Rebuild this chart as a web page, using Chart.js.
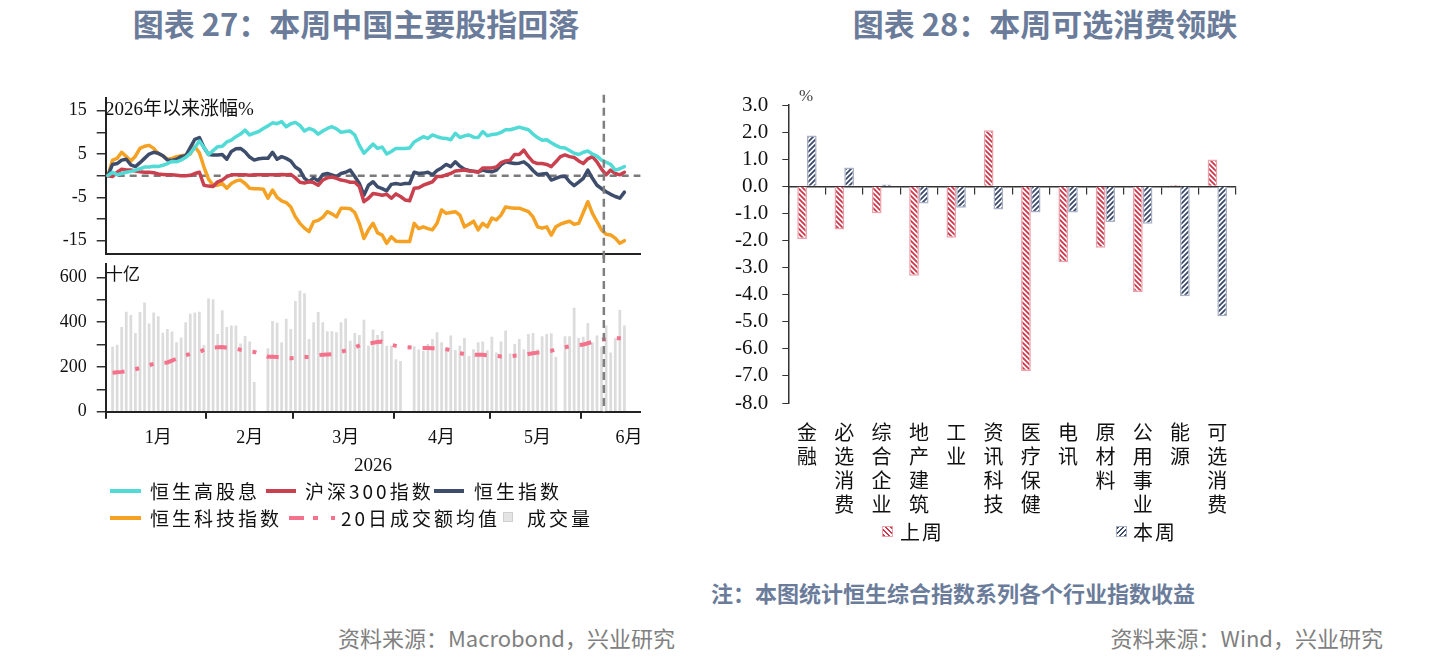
<!DOCTYPE html>
<html>
<head>
<meta charset="utf-8">
<script src="https://cdn.jsdelivr.net/npm/chart.js@4.4.1/dist/chart.umd.min.js"></script>
<style>
  body { margin: 0; width: 1440px; height: 671px; background: #fff; position: relative; overflow: hidden;
         font-family: 'Noto Sans CJK SC', sans-serif; }
  .abs { position: absolute; white-space: nowrap; }
  canvas { position: absolute; }
  .title { font-size: 31px; font-weight: bold; color: #6b7c9b; top: 4px; line-height: 38px; width: 600px; text-align: center; }
  .src { font-size: 22px; color: #808080; top: 624px; line-height: 26px; }
  .serif { font-family: 'Liberation Serif', 'Noto Sans CJK SC', serif; color: #111; }
  .lg { font-size: 19px; letter-spacing: 3px; line-height: 26px; color: #111; }
  .sw { position: absolute; height: 4px; }
</style>
</head>
<body>
<div class="abs title" style="left:56px">图表 27：本周中国主要股指回落</div>
<div class="abs title" style="left:745px">图表 28：本周可选消费领跌</div>

<canvas id="pctChart" width="650" height="170" style="left:0;top:90px"></canvas>
<canvas id="volChart" width="650" height="200" style="left:0;top:255px"></canvas>
<canvas id="sectorChart" width="545" height="445" style="left:700px;top:80px"></canvas>

<div class="abs serif" style="left:105px;top:98px;font-size:19px;line-height:22px">2026年以来涨幅%</div>
<div class="abs serif" style="left:106px;top:265px;font-size:17px;line-height:20px">十亿</div>
<div class="abs serif" style="left:273px;top:453px;width:200px;text-align:center;font-size:19px;line-height:24px">2026</div>
<div class="abs serif" style="left:799px;top:86px;font-size:17px;line-height:20px;color:#444">%</div>

<!-- left legend -->
<div class="sw" style="left:110px;top:489px;width:31px;background:#52dbd6"></div>
<div class="abs lg" style="left:150px;top:478px">恒生高股息</div>
<div class="sw" style="left:266px;top:489px;width:30px;background:#c9404f"></div>
<div class="abs lg" style="left:305px;top:478px">沪深300指数</div>
<div class="sw" style="left:434px;top:489px;width:30px;background:#3e4d6b"></div>
<div class="abs lg" style="left:474px;top:478px">恒生指数</div>
<div class="sw" style="left:110px;top:516px;width:31px;background:#f5a123"></div>
<div class="abs lg" style="left:150px;top:505px">恒生科技指数</div>
<div class="sw" style="left:289px;top:516px;width:15px;background:#f5728c"></div>
<div class="sw" style="left:313px;top:516px;width:5px;background:#f5728c"></div>
<div class="sw" style="left:331px;top:516px;width:4px;background:#f5728c"></div>
<div class="abs lg" style="left:341px;top:505px">20日成交额均值</div>
<div class="abs" style="left:503px;top:512px;width:8px;height:8px;background:#e4e4e4;border:1px solid #cfcfcf"></div>
<div class="abs lg" style="left:527px;top:505px">成交量</div>

<!-- right legend -->
<div class="abs" style="left:882px;top:526px;width:9px;height:9px;border:1px solid #eaa2ab;background:repeating-linear-gradient(45deg,#d0364a 0 1.6px,#fff 1.6px 3.6px)"></div>
<div class="abs lg" style="left:900px;top:519px;font-size:20px;letter-spacing:2px">上周</div>
<div class="abs" style="left:1116px;top:526px;width:9px;height:9px;border:1px solid #a7b0c4;background:repeating-linear-gradient(-45deg,#3b4a6b 0 1.6px,#fff 1.6px 3.6px)"></div>
<div class="abs lg" style="left:1133px;top:519px;font-size:20px;letter-spacing:2px">本周</div>

<div class="abs" style="left:698px;top:579px;width:510px;text-align:center;font-size:22px;font-weight:bold;color:#6b7c9b;line-height:26px">注：本图统计恒生综合指数系列各个行业指数收益</div>
<div class="abs src" style="right:765px">资料来源：Macrobond，兴业研究</div>
<div class="abs src" style="right:57px">资料来源：Wind，兴业研究</div>

<script>
// trading-day slots on the shared x axis (Jan 1 .. mid June)
const slotCount = 117;
const slots = Array.from({ length: slotCount }, (_, i) => String(i));
const monthStarts = [0, 22, 41, 63, 84, 104];
const monthLabelSlots = [11, 31, 52, 73, 94, 114];
const monthNames = ["1月", "2月", "3月", "4月", "5月", "6月"];
const weekBreak = 109; // first slot of this week

const pctTicks = [-15, -10, -5, 0, 5, 10, 15];
const pctLabels = [-15, -5, 5, 15];
const volTicks = [0, 100, 200, 300, 400, 500, 600];
const volLabels = [0, 200, 400, 600];

// 2026 YTD change, %
const hsHighDividend = [
  0, 0.8, 0.2, 0.5, 0.8, 1.0, 1.3, 1.6, 2.0, 2.0, 2.2, 2.1, 2.4, 2.8, 3.3, 3.2, 3.6, 4.2, 5.2, 6.5,
  8.0, 6.5, 4.9, 5.8, 6.7, 6.8, 7.8, 8.2, 9.0, 9.6, 10.5, 9.4, 9.8, 10.2, 10.9, 11.5, 12.2, 12.0, 12.5, 11.3,
  12.0, 12.3, 11.6, 10.3, 10.9, 10.5, 9.6, 10.3, 10.9, 11.3, 10.8, 10.0, 10.2, 10.3, 9.4, 7.0, 5.2, 6.2, 7.3, 6.3,
  6.6, 5.0, 5.6, 6.3, 6.3, 6.3, 6.4, 7.8, 8.4, 9.0, 8.6, 9.4, 9.0, 8.7, 8.6, 8.3, 9.8, 8.8, 9.2, 9.4,
  8.9, 8.8, 10.2, 9.2, 9.5, 9.6, 10.0, 10.6, 10.6, 10.9, 11.2, 10.9, 10.6, 9.6, 8.8, 8.2, 8.3, 7.6, 7.0, 6.5,
  6.4, 5.8, 5.2, 4.9, 5.4, 5.7, 5.0, 4.5, 3.6, 3.1, 2.6, 1.3, 1.6, 2.1
];
const csi300 = [
  0, -0.2, 0.8, 1.5, 1.3, 1.3, 1.1, 0.9, 0.8, 0.8, 0.7, 0.4, 0.3, 0.2, 0.2, 0.1, 0, 0, 0.1, 0.5,
  0.8, -2.2, -2.4, -2.5, -1.4, -1.0, -0.2, 0.2, 0.2, 0.2, 0.2, 0.1, 0.2, 0.2, 0.2, 0.2, 0.2, 0.2, 0.3, 0.2,
  0.3, -0.5, -1.5, -1.7, -1.4, -1.6, -2.2, -1.0, -0.5, -0.3, -0.6, -1.0, -1.2, -1.5, -1.5, -2.5, -6.0, -5.2, -4.1, -4.3,
  -4.5, -4.3, -5.2, -4.2, -4.8, -5.6, -5.8, -2.9, -2.8, -2.2, -1.8, -1.4, -0.2, -0.2, 0.2, 0.5, 1.1, 1.2, 1.3, 1.1,
  1.0, 0.8, 1.8, 1.8, 1.8, 2.0, 3.0, 3.4, 3.6, 4.9, 4.9, 5.9, 4.4, 3.2, 2.8, 2.8, 2.6, 2.1, 3.2, 4.4,
  4.8, 4.4, 4.2, 3.4, 2.8, 3.9, 4.4, 3.2, 1.5, 0.2, 1.3, 0.5, 0.2, 0.8
];
const hsIndex = [
  0, 2.6, 2.8, 3.6, 3.8, 2.5, 2.1, 3.0, 4.0, 5.0, 5.4, 5.2, 4.6, 3.6, 3.5, 3.8, 4.4, 4.6, 6.5, 8.4,
  8.8, 6.5, 4.9, 4.8, 4.8, 4.9, 3.8, 5.6, 6.2, 6.3, 5.5, 4.3, 3.6, 3.9, 4.0, 4.0, 5.4, 3.8, 4.4, 4.0,
  3.4, 2.0, 1.3, -0.6, -1.4, -0.5, -1.2, 0.3, 0.5, 0.2, -0.2, 0.5, 0.8, 1.3, -0.2, -1.8, -4.5, -2.2, -1.4, -2.6,
  -3.0, -3.5, -2.0, -1.8, -2.0, -1.8, -1.8, 0.8, 0.5, 0.6, 0.8, 0.2, 1.2, 1.8, 2.6, 2.1, 3.2, 2.2, 1.5, 1.2,
  1.0, 0.9, 1.3, 1.0, 0.9, 1.3, 2.5, 3.2, 3.0, 2.8, 2.9, 3.2, 2.4, 1.2, 0.2, 0.4, 0.5, -1.0, -0.6, -0.2,
  -0.1, -1.4, -2.3, -1.5, -0.6, 1.3, -0.6, -2.2, -3.0, -3.7, -4.3, -4.8, -5.2, -3.8
];
const hsTech = [
  0, 3.6, 4.0, 5.4, 4.4, 3.4, 4.5, 6.3, 6.8, 7.0, 6.3, 5.1, 4.6, 3.8, 4.0, 4.4, 4.6, 4.8, 5.0, 6.7,
  5.3, 2.0, -0.8, -2.2, -2.2, -1.8, -2.9, -1.8, -1.2, -1.0, -1.8, -2.9, -3.0, -3.0, -3.1, -5.2, -3.3, -5.0, -5.8, -6.2,
  -7.2, -9.5, -11.0, -12.1, -12.9, -10.6, -10.3, -9.6, -8.3, -8.8, -9.5, -7.5, -7.5, -7.6, -8.5, -11.0, -14.5, -12.5, -11.0, -13.2,
  -13.7, -15.6, -14.1, -15.1, -15.2, -15.2, -15.2, -11.0, -12.2, -11.8, -12.2, -12.5, -11.0, -7.9, -8.7, -8.5, -8.3, -9.1, -11.8, -11.2,
  -10.5, -12.5, -11.0, -11.8, -9.8, -10.2, -9.1, -7.2, -7.4, -7.5, -7.5, -7.9, -8.3, -9.5, -11.8, -12.1, -11.8, -13.7, -11.8, -11.2,
  -10.8, -10.5, -11.2, -11.0, -8.5, -6.0, -8.7, -10.6, -12.5, -13.5, -13.7, -14.4, -15.6, -15.0
];

// turnover, HKD bn (十亿)
const turnover = [
  null, 290, 299, 379, 447, 432, 352, 446, 488, 394, 443, 427, 353, 370, 358, 310, 332, 400, 438, 443,
  447, 298, 506, 502, 347, 453, 378, 385, 385, 305, 338, 314, 133, null, null, 284, 405, 397, 310, 415,
  370, 495, 541, 529, 325, 400, 446, 400, 360, 360, 355, 400, 417, 317, 352, 343, 411, 295, 367, 343,
  361, 295, 295, 234, 227, null, null, 293, 278, 272, 302, 325, 355, 310, 287, 340, 276, 295, 329, 249,
  279, 310, 314, 275, 335, 264, 314, 363, 260, 302, 325, 279, 347, 352, 279, 337, 347, 350, 245, null,
  337, 337, 464, 329, 335, 396, 310, 340, 290, 385, 265, 328, 455, 385
];
const turnoverMA20 = [
  null, 174, 176, 178, 181, 186, 190, 195, 202, 208, 214, 216, 218, 220, 228, 237, 245, 252, 258, 263,
  267, 276, 283, 287, 288, 289, 286, 283, 281, 277, 273, 270, 267, null, null, 246, 245, 244, 242, 240,
  239, 240, 242, 244, 245, 248, 252, 255, 256, 257, 262, 268, 273, 278, 287, 296, 305, 305, 308, 311,
  313, 306, 299, 294, 290, null, null, 286, 285, 285, 285, 284, 284, 283, 279, 275, 268, 262, 257, 256,
  255, 254, 254, 252, 250, 249, 247, 245, 247, 250, 252, 254, 258, 261, 264, 266, 269, 272, 279, null,
  288, 292, 296, 298, 300, 306, 312, 317, 321, 325, 329, 329, 328, 328
];

// Hang Seng Composite industry returns, %
const industries = ["金融", "必选消费", "综合企业", "地产建筑", "工业", "资讯科技", "医疗保健", "电讯", "原材料", "公用事业", "能源", "可选消费"];
const lastWeek = [-1.95, -1.6, -1.0, -3.3, -1.9, 2.07, -6.82, -2.8, -2.27, -3.9, 0.05, 0.99];
const thisWeek = [1.87, 0.69, 0.07, -0.64, -0.79, -0.86, -0.97, -0.97, -1.32, -1.38, -4.06, -4.8];

const serif = "'Liberation Serif', 'Noto Sans CJK SC', serif";
const cjk = "'Noto Sans CJK SC', sans-serif";
Chart.defaults.font.family = serif;
Chart.defaults.color = "#111";

// fixed axis width, no extra label overflow padding
const fixY = (w) => (s) => { s.width = w; s.paddingTop = 0; s.paddingBottom = 0; };

// dashed zero line + dashed "this week" divider
const refLines = {
  id: "refLines",
  beforeDatasetsDraw(chart, args, opts) {
    if (!opts.zero) return;
    const { ctx, chartArea, scales } = chart;
    const y = scales.y.getPixelForValue(0);
    ctx.save();
    ctx.strokeStyle = "#7a7a7a";
    ctx.lineWidth = 2.5;
    ctx.setLineDash([7, 5]);
    ctx.beginPath();
    ctx.moveTo(chartArea.left, y);
    ctx.lineTo(chartArea.right, y);
    ctx.stroke();
    ctx.restore();
  },
  afterDatasetsDraw(chart, args, opts) {
    const { ctx, chartArea, scales } = chart;
    const x = (scales.x.getPixelForValue(weekBreak - 1) + scales.x.getPixelForValue(weekBreak)) / 2;
    const top = opts.zero ? chartArea.top - 3 : 0;
    const bottom = opts.zero ? chart.height : chartArea.bottom;
    ctx.save();
    ctx.strokeStyle = "#7f7f7f";
    ctx.lineWidth = 2.5;
    ctx.setLineDash([8, 5]);
    ctx.beginPath();
    ctx.moveTo(x, top);
    ctx.lineTo(x, bottom);
    ctx.stroke();
    ctx.restore();
  },
};

const lineStyle = { borderWidth: 3.5, pointRadius: 0, tension: 0, borderJoinStyle: "round", borderCapStyle: "round", fill: false };

new Chart(document.getElementById("pctChart"), {
  type: "line",
  data: {
    labels: slots,
    datasets: [
      { label: "恒生高股息", data: hsHighDividend, borderColor: "#52dbd6", ...lineStyle },
      { label: "沪深300指数", data: csi300, borderColor: "#c9404f", ...lineStyle },
      { label: "恒生指数", data: hsIndex, borderColor: "#3e4d6b", ...lineStyle },
      { label: "恒生科技指数", data: hsTech, borderColor: "#f5a123", ...lineStyle },
    ],
  },
  options: {
    responsive: false,
    animation: false,
    layout: { padding: { top: 7.7, right: 9.6, left: 0, bottom: 0 } },
    plugins: { legend: { display: false }, tooltip: { enabled: false }, refLines: { zero: true } },
    scales: {
      x: {
        type: "category",
        offset: true,
        grid: { display: false },
        ticks: { display: false },
        border: { display: true, color: "#222", width: 2 },
        afterFit: (s) => { s.height = 6.3; },
      },
      y: {
        min: -18,
        max: 18,
        afterBuildTicks: (s) => { s.ticks = pctTicks.map((v) => ({ value: v })); },
        afterFit: fixY(105.7),
        grid: { drawOnChartArea: false, tickLength: 9, color: "#333", lineWidth: 1.5 },
        border: { color: "#222", width: 2 },
        ticks: { autoSkip: false, padding: 10, font: { size: 18 }, callback: (v) => (pctLabels.includes(v) ? String(v) : "") },
      },
    },
  },
  plugins: [refLines],
});

new Chart(document.getElementById("volChart"), {
  type: "bar",
  data: {
    labels: slots,
    datasets: [
      {
        type: "line", label: "20日成交额均值", data: turnoverMA20, borderColor: "#f5728c", borderWidth: 4,
        borderDash: [12, 11, 4, 11, 4, 11], pointRadius: 0, spanGaps: true, tension: 0, order: 0,
      },
      { type: "bar", label: "成交量", data: turnover, backgroundColor: "#dcdcdc", barPercentage: 0.6, categoryPercentage: 1, order: 1 },
    ],
  },
  options: {
    responsive: false,
    animation: false,
    layout: { padding: { top: 9, right: 9.6, left: 0, bottom: 0 } },
    plugins: { legend: { display: false }, tooltip: { enabled: false }, refLines: { zero: false } },
    scales: {
      x: {
        type: "category",
        offset: true,
        grid: {
          offset: true, drawOnChartArea: false, tickLength: 7, lineWidth: 2,
          color: (c) => (monthStarts.includes(c.index) ? "#222" : "rgba(0,0,0,0)"),
        },
        border: { color: "#222", width: 2 },
        ticks: {
          autoSkip: false, maxRotation: 0, padding: 9, font: { size: 18 },
          callback: (v, i) => { const k = monthLabelSlots.indexOf(i); return k < 0 ? "" : monthNames[k]; },
        },
        afterFit: (s) => { s.height = 43.3; },
      },
      y: {
        min: 0,
        max: 660,
        afterBuildTicks: (s) => { s.ticks = volTicks.map((v) => ({ value: v })); },
        afterFit: fixY(105.7),
        grid: { drawOnChartArea: false, tickLength: 9, color: "#333", lineWidth: 1.5 },
        border: { color: "#222", width: 2 },
        ticks: { autoSkip: false, padding: 10, font: { size: 18 }, callback: (v) => (volLabels.includes(v) ? String(v) : "") },
      },
    },
  },
  plugins: [refLines],
});

// diagonal hatch fills for the sector bars
function hatch(color, dir) {
  const c = document.createElement("canvas");
  c.width = 5;
  c.height = 5;
  const g = c.getContext("2d");
  g.fillStyle = "#fff";
  g.fillRect(0, 0, 5, 5);
  g.strokeStyle = color;
  g.lineWidth = 1.8;
  g.beginPath();
  if (dir === "\\") {
    g.moveTo(-1, -1); g.lineTo(6, 6);
    g.moveTo(-1, 4); g.lineTo(1, 6);
    g.moveTo(4, -1); g.lineTo(6, 1);
  } else {
    g.moveTo(-1, 6); g.lineTo(6, -1);
    g.moveTo(-1, 1); g.lineTo(1, -1);
    g.moveTo(4, 6); g.lineTo(6, 4);
  }
  g.stroke();
  return g.createPattern(c, "repeat");
}

new Chart(document.getElementById("sectorChart"), {
  type: "bar",
  data: {
    labels: industries.map((s) => s.split("")),
    datasets: [
      {
        label: "上周", data: lastWeek, backgroundColor: hatch("#d0364a", "\\"), borderColor: "#eaa2ab",
        borderWidth: 1.5, categoryPercentage: 0.52, barPercentage: 1, xAxisID: "x",
      },
      {
        label: "本周", data: thisWeek, backgroundColor: hatch("#3b4a6b", "/"), borderColor: "#a7b0c4",
        borderWidth: 1.5, categoryPercentage: 0.52, barPercentage: 1, xAxisID: "x",
      },
    ],
  },
  options: {
    responsive: false,
    animation: false,
    layout: { padding: { top: 25, right: 9, left: 0, bottom: 0 } },
    plugins: { legend: { display: false }, tooltip: { enabled: false } },
    scales: {
      x: {
        type: "category",
        position: { y: 0 },
        offset: true,
        grid: { offset: true, drawOnChartArea: false, tickLength: 7, color: "#333", lineWidth: 1.2 },
        ticks: { display: false },
        border: { color: "#333", width: 1.5 },
      },
      x2: {
        type: "category",
        position: "bottom",
        offset: true,
        grid: { display: false },
        border: { display: false },
        ticks: { autoSkip: false, maxRotation: 0, padding: 9, font: { family: cjk, size: 20, lineHeight: 1.2 } },
        afterFit: (s) => { s.height = 122; },
      },
      y: {
        min: -8,
        max: 3,
        ticks: { stepSize: 1, autoSkip: false, padding: 14, font: { size: 21 }, callback: (v) => v.toFixed(1) },
        grid: { drawOnChartArea: false, tickLength: 6, color: "#333" },
        border: { color: "#333", width: 1.5 },
        afterFit: fixY(88.3),
      },
    },
  },
});
</script>
</body>
</html>
